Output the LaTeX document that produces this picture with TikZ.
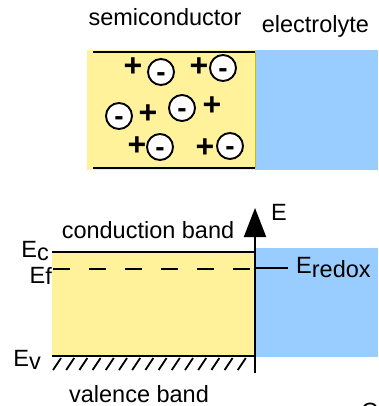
\documentclass[tikz,border=0pt]{standalone}
\usepackage{fontspec}
\setmainfont{Liberation Sans}
\usetikzlibrary{positioning,arrows.meta}
\definecolor{semi}{HTML}{FFF29B}
\definecolor{elyte}{HTML}{99CCFF}
\definecolor{rim}{HTML}{C8BE00}

\begin{document}
\begin{tikzpicture}[
  x=1pt, y=-1pt,
  font=\fontsize{23.5}{26}\selectfont,
  lbl/.style={inner sep=0pt},
  hole/.style={inner sep=0pt, font=\bfseries\fontsize{32}{32}\selectfont},
  electron/.style={circle, draw, line width=1.9pt, fill=white, minimum size=26pt, inner sep=0pt,
    text height=19pt, text depth=0pt, font=\bfseries\fontsize{28}{28}\selectfont},
  band/.style={line width=2pt},
  hatch/.style={line width=1.8pt}
]
\useasboundingbox (0,0) rectangle (378,406);

\fill[semi] (87,50) rectangle (255,170);
\fill[elyte] (255,50) rectangle (378,170);
\draw[rim, line width=1pt] (255,52) -- (255,168);
\coordinate (toplft) at (93,52);
\coordinate (botlft) at (93,168);
\coordinate (toprgt) at (255,52);
\coordinate (botrgt) at (255,168);
\draw[band] (toplft) -- (toprgt);
\draw[band] (botlft) -- (botrgt);

\node[lbl, anchor=base] (semi) at (165,26) {semiconductor};
\node[lbl, anchor=base west, right=20pt of semi.base east] (elyte) {electrolyte};

\node[hole] (h1) at (133,67) {+};
\node[electron] (e1) at (161,72) {-};
\node[hole] (h2) at (199,67) {+};
\node[electron] (e2) at (223,68) {-};
\node[electron] (e3) at (119,116) {-};
\node[hole] (h3) at (148,114) {+};
\node[electron] (e4) at (182,108) {-};
\node[hole] (h4) at (212,106) {+};
\node[hole] (h5) at (137,146) {+};
\node[electron] (e5) at (160,147) {-};
\node[hole] (h6) at (205,148) {+};
\node[electron] (e6) at (230,146) {-};

\fill[semi] (52,252) rectangle (255,357);
\fill[elyte] (255,248) rectangle (378,357);

\coordinate (ec) at (52,252);
\coordinate (ef) at (53,269);
\coordinate (ev) at (52,356);
\coordinate (axlo) at (255,373);
\coordinate (axhi) at (255,208);
\coordinate (redox) at (288,268);

\draw[band] (ec) -- (ec -| axlo);
\draw[band] (ev) -- (ev -| axlo);
\draw[band, dash pattern=on 17pt off 19pt] (ef) -- (ef -| axlo);
\draw[band] (axlo |- redox) -- (redox);
\draw[band, -{Triangle[length=29pt,width=22pt]}] (axlo) -- (axhi);

\foreach \i in {0,...,14}
  \draw[hatch] (53+13.2*\i,370) -- ++(8,-12);

\node[lbl, anchor=base west] (elbl) at (271,220) {E};
\node[lbl, anchor=base] (cb) at (148,238) {conduction band};
\node[lbl, anchor=base] (vb) at (139,402) {valence band};
\node[lbl, anchor=base east] (eclbl) at (49,257) {E\raisebox{-3pt}{c}};
\node[lbl, anchor=base east] (eflbl) at (52,283) {E\raisebox{-1pt}{f}};
\node[lbl, anchor=base east] (evlbl) at (41,366) {E\raisebox{-3pt}{v}};
\node[lbl, anchor=base west] (rdlbl) at (296,273) {E\raisebox{-4pt}{redox}};
\node[lbl, anchor=base west] (cut) at (361,419) {C};
\end{tikzpicture}
\end{document}
